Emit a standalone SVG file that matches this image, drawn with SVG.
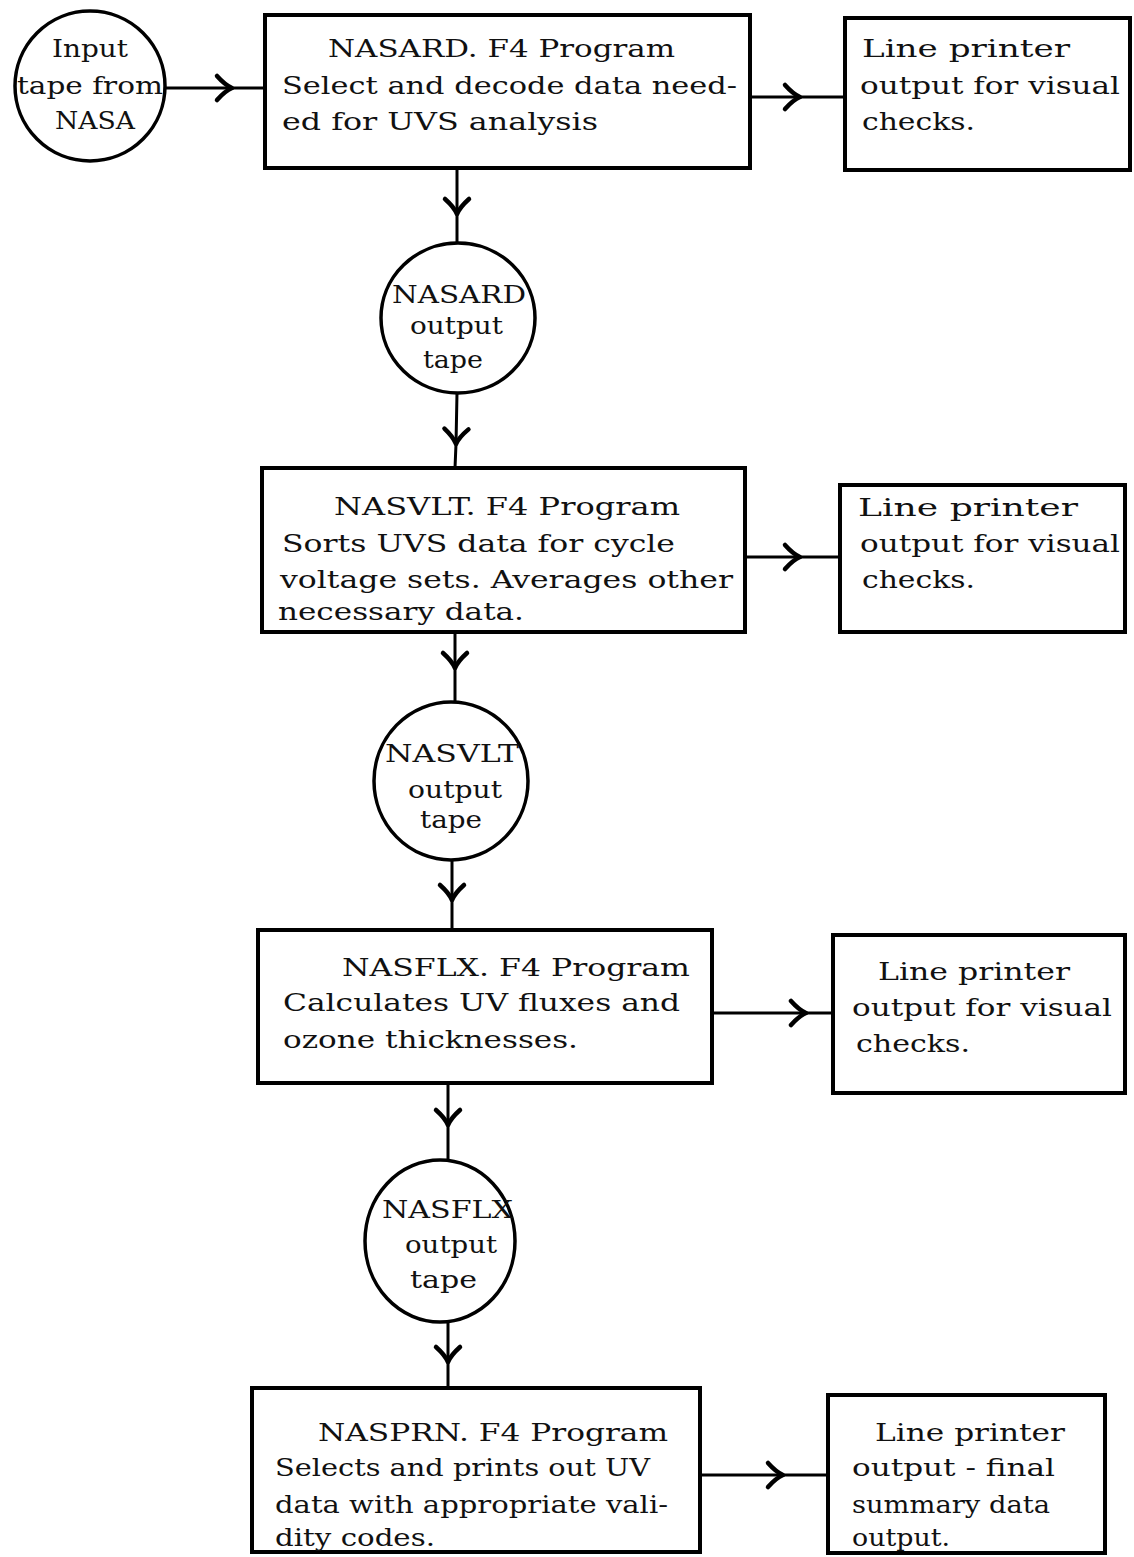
<svg xmlns="http://www.w3.org/2000/svg" width="1134" height="1557" viewBox="0 0 1134 1557">
<defs>
<style>
.box{fill:none;stroke:#000;stroke-width:4}
.tape{fill:none;stroke:#000;stroke-width:3.5}
.con{fill:none;stroke:#000;stroke-width:3;marker-mid:url(#chev)}
text{font-family:"DejaVu Serif","Liberation Serif",serif;font-size:25px;fill:#111}
</style>
<marker id="chev" markerUnits="userSpaceOnUse" viewBox="-20 -16 24 32" markerWidth="24" markerHeight="32" refX="0" refY="0" orient="auto" overflow="visible">
<path d="M-15,-12 Q-7,-3 0,0 Q-7,3 -15,12" fill="none" stroke="#000" stroke-width="4.5" stroke-linecap="round" stroke-linejoin="round"/>
</marker>
</defs>
<rect width="1134" height="1557" fill="#fff"/>

<g id="connectors">
<path class="con" d="M165,88 L232,88 L265,88"/>
<path class="con" d="M750,97 L800,97 L845,97"/>
<path class="con" d="M457,168 L457,214 L457,243"/>
<path class="con" d="M457,393 L456,444 L455,468"/>
<path class="con" d="M745,557 L800,557 L840,557"/>
<path class="con" d="M455,632 L455,668 L455,702"/>
<path class="con" d="M452,860 L452,900 L452,930"/>
<path class="con" d="M712,1013 L806,1013 L833,1013"/>
<path class="con" d="M448,1083 L448,1125 L448,1160"/>
<path class="con" d="M448,1322 L448,1362 L448,1388"/>
<path class="con" d="M700,1475 L783,1475 L828,1475"/>
</g>

<g id="input-tape">
<ellipse class="tape" cx="90" cy="86" rx="75" ry="75"/>
<text x="52" y="57" textLength="76" lengthAdjust="spacingAndGlyphs">Input</text>
<text x="17" y="94" textLength="146" lengthAdjust="spacingAndGlyphs">tape from</text>
<text x="55" y="129" textLength="80" lengthAdjust="spacingAndGlyphs">NASA</text>
</g>

<g id="nasard-program">
<rect class="box" x="265" y="15" width="485" height="153"/>
<text x="328" y="57" textLength="347" lengthAdjust="spacingAndGlyphs">NASARD. F4 Program</text>
<text x="282" y="94" textLength="455" lengthAdjust="spacingAndGlyphs">Select and decode data need-</text>
<text x="282" y="130" textLength="316" lengthAdjust="spacingAndGlyphs">ed for UVS analysis</text>
</g>

<g id="printer-1">
<rect class="box" x="845" y="18" width="285" height="152"/>
<text x="862" y="57" textLength="208" lengthAdjust="spacingAndGlyphs">Line printer</text>
<text x="860" y="94" textLength="260" lengthAdjust="spacingAndGlyphs">output for visual</text>
<text x="862" y="130" textLength="113" lengthAdjust="spacingAndGlyphs">checks.</text>
</g>

<g id="nasard-tape">
<ellipse class="tape" cx="458" cy="318" rx="77" ry="75"/>
<text x="392" y="303" textLength="134" lengthAdjust="spacingAndGlyphs">NASARD</text>
<text x="410" y="334" textLength="93" lengthAdjust="spacingAndGlyphs">output</text>
<text x="423" y="368" textLength="60" lengthAdjust="spacingAndGlyphs">tape</text>
</g>

<g id="nasvlt-program">
<rect class="box" x="262" y="468" width="483" height="164"/>
<text x="334" y="515" textLength="346" lengthAdjust="spacingAndGlyphs">NASVLT. F4 Program</text>
<text x="282" y="552" textLength="393" lengthAdjust="spacingAndGlyphs">Sorts UVS data for cycle</text>
<text x="280" y="588" textLength="453" lengthAdjust="spacingAndGlyphs">voltage sets. Averages other</text>
<text x="278" y="620" textLength="246" lengthAdjust="spacingAndGlyphs">necessary data.</text>
</g>

<g id="printer-2">
<rect class="box" x="840" y="485" width="285" height="147"/>
<text x="858" y="516" textLength="220" lengthAdjust="spacingAndGlyphs">Line printer</text>
<text x="860" y="552" textLength="260" lengthAdjust="spacingAndGlyphs">output for visual</text>
<text x="862" y="588" textLength="113" lengthAdjust="spacingAndGlyphs">checks.</text>
</g>

<g id="nasvlt-tape">
<ellipse class="tape" cx="451" cy="781" rx="77" ry="79"/>
<text x="385" y="762" textLength="134" lengthAdjust="spacingAndGlyphs">NASVLT</text>
<text x="408" y="798" textLength="94" lengthAdjust="spacingAndGlyphs">output</text>
<text x="420" y="828" textLength="62" lengthAdjust="spacingAndGlyphs">tape</text>
</g>

<g id="nasflx-program">
<rect class="box" x="258" y="930" width="454" height="153"/>
<text x="342" y="976" textLength="348" lengthAdjust="spacingAndGlyphs">NASFLX. F4 Program</text>
<text x="283" y="1011" textLength="397" lengthAdjust="spacingAndGlyphs">Calculates UV fluxes and</text>
<text x="283" y="1048" textLength="295" lengthAdjust="spacingAndGlyphs">ozone thicknesses.</text>
</g>

<g id="printer-3">
<rect class="box" x="833" y="935" width="292" height="158"/>
<text x="878" y="980" textLength="192" lengthAdjust="spacingAndGlyphs">Line printer</text>
<text x="852" y="1016" textLength="260" lengthAdjust="spacingAndGlyphs">output for visual</text>
<text x="856" y="1052" textLength="114" lengthAdjust="spacingAndGlyphs">checks.</text>
</g>

<g id="nasflx-tape">
<ellipse class="tape" cx="440" cy="1241" rx="75" ry="81"/>
<text x="382" y="1218" textLength="131" lengthAdjust="spacingAndGlyphs">NASFLX</text>
<text x="405" y="1253" textLength="92" lengthAdjust="spacingAndGlyphs">output</text>
<text x="410" y="1288" textLength="67" lengthAdjust="spacingAndGlyphs">tape</text>
</g>

<g id="nasprn-program">
<rect class="box" x="252" y="1388" width="448" height="164"/>
<text x="318" y="1441" textLength="350" lengthAdjust="spacingAndGlyphs">NASPRN. F4 Program</text>
<text x="275" y="1476" textLength="375" lengthAdjust="spacingAndGlyphs">Selects and prints out UV</text>
<text x="275" y="1513" textLength="393" lengthAdjust="spacingAndGlyphs">data with appropriate vali-</text>
<text x="275" y="1546" textLength="160" lengthAdjust="spacingAndGlyphs">dity codes.</text>
</g>

<g id="printer-4">
<rect class="box" x="828" y="1395" width="277" height="158"/>
<text x="875" y="1441" textLength="190" lengthAdjust="spacingAndGlyphs">Line printer</text>
<text x="852" y="1476" textLength="203" lengthAdjust="spacingAndGlyphs">output - final</text>
<text x="852" y="1513" textLength="198" lengthAdjust="spacingAndGlyphs">summary data</text>
<text x="852" y="1546" textLength="98" lengthAdjust="spacingAndGlyphs">output.</text>
</g>
</svg>
